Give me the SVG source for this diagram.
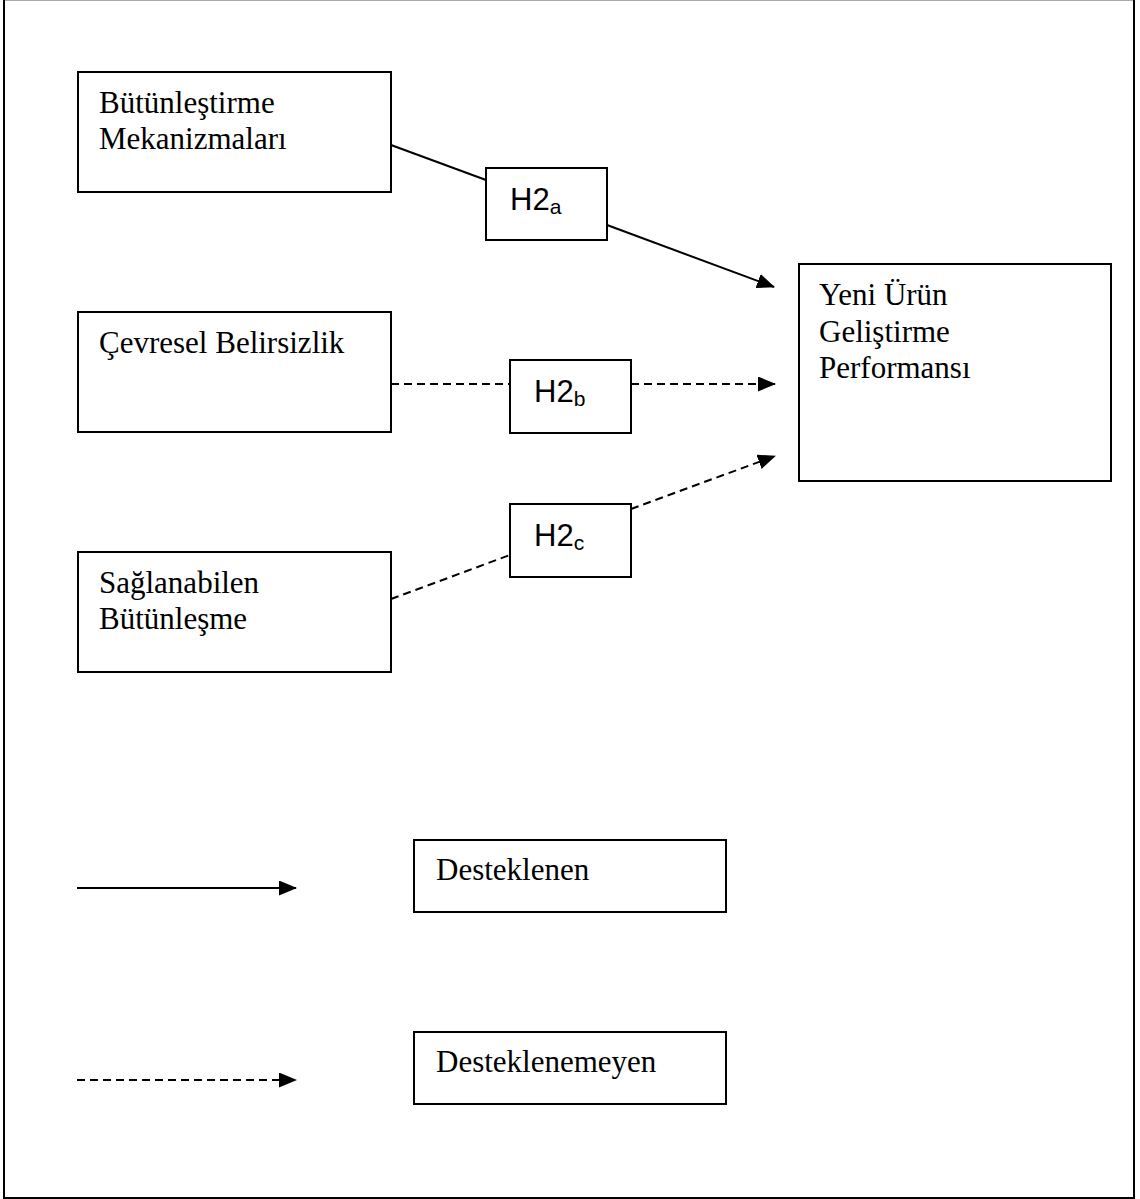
<svg xmlns="http://www.w3.org/2000/svg" width="1140" height="1199" viewBox="0 0 1140 1199">
<style>
.box{fill:#fff;stroke:#000;stroke-width:2}
.t{font-family:"Liberation Serif","Times New Roman",serif;font-size:31px;fill:#000}
.h{font-family:"Liberation Sans",Arial,sans-serif;font-size:31px;fill:#000}
.sub{font-size:21px}
.ln{fill:none;stroke:#000;stroke-width:2}
.dash{stroke-dasharray:8 5}
</style>
<defs>
<marker id="arr" markerWidth="18" markerHeight="15" refX="17" refY="7.5" orient="auto" markerUnits="userSpaceOnUse">
<path d="M0,0 L18,7.5 L0,15 Z" fill="#000"/>
</marker>
</defs>
<rect x="0" y="0" width="1140" height="1199" fill="#fff"/>
<g id="frame">
<line x1="4" y1="0.5" x2="1134" y2="0.5" stroke="#aaa" stroke-width="1"/>
<path d="M4,0 V1198 H1134 V0" fill="none" stroke="#000" stroke-width="2"/>
</g>
<g id="connectors">
<line class="ln" x1="391" y1="145" x2="486" y2="180"/>
<line class="ln" x1="607" y1="225" x2="774" y2="287" marker-end="url(#arr)"/>
<line class="ln dash" x1="391" y1="384" x2="510" y2="384"/>
<line class="ln dash" x1="631" y1="384" x2="775" y2="384" marker-end="url(#arr)"/>
<line class="ln dash" x1="391" y1="599" x2="510" y2="555"/>
<line class="ln dash" x1="631" y1="509" x2="775" y2="456" marker-end="url(#arr)"/>
<line class="ln" x1="77" y1="888" x2="296" y2="888" marker-end="url(#arr)"/>
<line class="ln dash" x1="77" y1="1080" x2="296" y2="1080" marker-end="url(#arr)"/>
</g>
<g id="n-butunlestirme">
<rect class="box" x="78" y="72" width="313" height="120"/>
<text class="t" x="99" y="113">Bütünleştirme</text>
<text class="t" x="99" y="149">Mekanizmaları</text>
</g>
<g id="n-cevresel">
<rect class="box" x="78" y="312" width="313" height="120"/>
<text class="t" x="99" y="353">Çevresel Belirsizlik</text>
</g>
<g id="n-saglanabilen">
<rect class="box" x="78" y="552" width="313" height="120"/>
<text class="t" x="99" y="593">Sağlanabilen</text>
<text class="t" x="99" y="629">Bütünleşme</text>
</g>
<g id="n-yeniurun">
<rect class="box" x="799" y="264" width="312" height="217"/>
<text class="t" x="819" y="305">Yeni Ürün</text>
<text class="t" x="819" y="342">Geliştirme</text>
<text class="t" x="819" y="378">Performansı</text>
</g>
<g id="n-h2a">
<rect class="box" x="486" y="168" width="121" height="72"/>
<text class="h" x="510" y="210">H2<tspan class="sub" dy="4">a</tspan></text>
</g>
<g id="n-h2b">
<rect class="box" x="510" y="360" width="121" height="73"/>
<text class="h" x="534" y="402">H2<tspan class="sub" dy="4">b</tspan></text>
</g>
<g id="n-h2c">
<rect class="box" x="510" y="504" width="121" height="73"/>
<text class="h" x="534" y="546">H2<tspan class="sub" dy="4">c</tspan></text>
</g>
<g id="n-desteklenen">
<rect class="box" x="414" y="840" width="312" height="72"/>
<text class="t" x="436" y="880">Desteklenen</text>
</g>
<g id="n-desteklenemeyen">
<rect class="box" x="414" y="1032" width="312" height="72"/>
<text class="t" x="436" y="1072">Desteklenemeyen</text>
</g>
</svg>
